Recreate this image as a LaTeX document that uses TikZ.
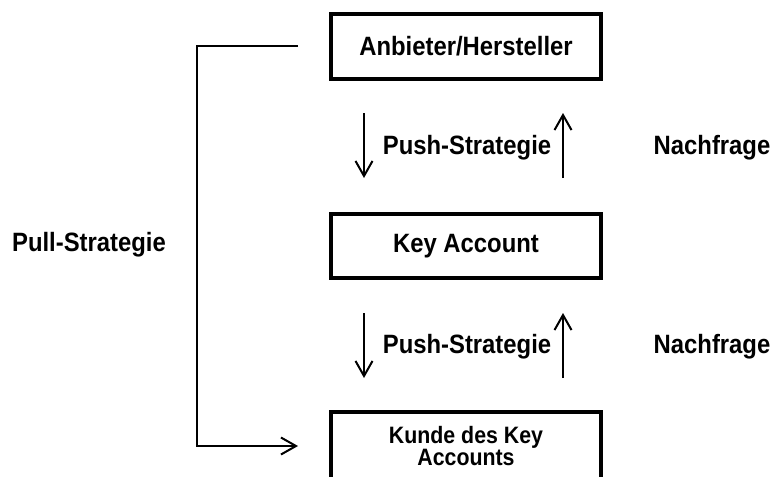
\documentclass[tikz,border=0pt]{standalone}
\usepackage{fontspec}
\setmainfont{Liberation Sans}[FakeStretch=0.9]
\usetikzlibrary{arrows.meta,calc}
\begin{document}
\begin{tikzpicture}[x=1pt,y=-1pt,
  box/.style={draw,line width=4pt,minimum width=270pt,inner sep=0pt,align=center},
  bigfont/.style={font=\fontsize{26.5}{28}\selectfont\bfseries},
  lbl/.style={bigfont,inner sep=0pt},
  arr/.style={line width=2pt,-{Straight Barb[length=15pt,width=17pt,line width=2pt]}}]
\clip (0,0) rectangle (775,476);
\fill[white] (0,0) rectangle (775,476);
\node[box,minimum height=65pt,bigfont] (top) at (466,46.5) {Anbieter/Hersteller};
\node[box,minimum height=64pt,bigfont] (key) at (466,246) {Key Account};
\node[box,minimum height=68pt,font=\fontsize{23.7}{22}\selectfont\bfseries] (bot) at (466,446) {Kunde des Key\\Accounts};
% push / demand arrows
\draw[arr,shorten <=32pt,shorten >=34pt] ([xshift=35pt]top.south west) -- ([xshift=35pt]key.north west);
\draw[arr,shorten <=34pt,shorten >=32pt] ([xshift=-40pt]key.north east) -- ([xshift=-40pt]top.south east);
\draw[arr,shorten <=33pt,shorten >=32pt] ([xshift=35pt]key.south west) -- ([xshift=35pt]bot.north west);
\draw[arr,shorten <=32pt,shorten >=33pt] ([xshift=-40pt]bot.north east) -- ([xshift=-40pt]key.south east);
\node[lbl] (push1) at (467,148) {Push-Strategie};
\node[lbl] (push2) at (467,347) {Push-Strategie};
\node[lbl] (nf1) at (712,148) {Nachfrage};
\node[lbl] (nf2) at (712,347) {Nachfrage};
\node[lbl] (pull) at (89,245) {Pull-Strategie};
% pull bracket
\draw[arr] ([xshift=-31pt]top.west) -- ++(-101,0) |- ([xshift=-31pt]bot.west);
\end{tikzpicture}
\end{document}
